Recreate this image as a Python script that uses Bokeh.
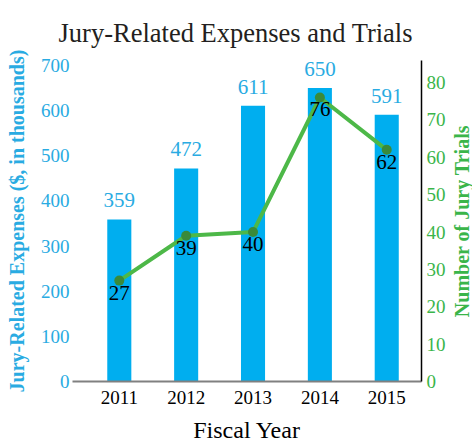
from bokeh.plotting import figure
from bokeh.layouts import row
from bokeh.models import Range1d, LinearAxis, FixedTicker, ColumnDataSource
from bokeh.core.properties import value
from bokeh.embed import file_html
from bokeh.resources import INLINE

years = [2011, 2012, 2013, 2014, 2015]
expenses = [359, 472, 611, 650, 591]
trials = [27, 39, 40, 76, 62]
left_ticks = [0, 100, 200, 300, 400, 500, 600, 700]
right_ticks = [0, 10, 20, 30, 40, 50, 60, 70, 80]

BLUE_BAR = "#00aeef"
BLUE_TXT = "#29abe2"
GREEN_LINE = "#4db848"
GREEN_TXT = "#3ab54a"
GREEN_DOT = "#3a8a3a"
SERIF = "Liberation Serif"

src = ColumnDataSource(dict(
    year=years, exp=expenses, tr=trials,
    exp_lbl=[str(v) for v in expenses], tr_lbl=[str(v) for v in trials]))

p = figure(width=448, height=445, x_range=Range1d(2010.30, 2015.52),
           y_range=Range1d(0, 711), output_backend="svg", toolbar_location=None,
           title="Jury-Related Expenses and Trials",
           min_border_left=72, min_border_right=27, min_border_bottom=63, min_border_top=60)
p.extra_y_ranges = {"trials": Range1d(0, 85.9)}

p.title.align = "left"
p.title.offset = -14
p.title.vertical_align = "bottom"
p.title.text_font = SERIF
p.title.text_font_style = "normal"
p.title.text_font_size = "26.5px"
p.title.text_color = "#231f20"
p.title.standoff = 26

p.grid.visible = False
p.outline_line_color = None
p.background_fill_color = "white"
p.border_fill_color = "white"

# bars
p.vbar(x="year", top="exp", width=0.36, source=src, fill_color=BLUE_BAR, line_color=None)
p.text(x="year", y="exp", text="exp_lbl", source=src, text_align="center",
       text_baseline="bottom", y_offset=-12, text_font=value(SERIF),
       text_font_size="21px", text_color=BLUE_TXT)

# line
p.line(x="year", y="tr", source=src, y_range_name="trials", line_color=GREEN_LINE, line_width=4)
p.scatter(x="year", y="tr", source=src, y_range_name="trials", size=10,
          fill_color=GREEN_DOT, line_color=None)
p.text(x="year", y="tr", text="tr_lbl", source=src, y_range_name="trials",
       text_align="center", text_baseline="top", y_offset=5, text_font=value(SERIF),
       text_font_size="21px", text_color="black")

def plain(ax):
    ax.major_tick_line_color = None
    ax.minor_tick_line_color = None
    ax.major_tick_out = 0
    ax.major_tick_in = 0
    ax.minor_tick_out = 0
    ax.minor_tick_in = 0

# bottom axis
xa = p.below[0]
plain(xa)
xa.ticker = FixedTicker(ticks=years)
xa.axis_line_color = "#808080"
xa.axis_line_width = 2
xa.major_label_text_font = SERIF
xa.major_label_text_font_size = "19px"
xa.major_label_text_color = "black"
xa.major_label_standoff = 9
xa.axis_label = "Fiscal Year"
xa.axis_label_text_font = SERIF
xa.axis_label_text_font_style = "normal"
xa.axis_label_text_font_size = "24px"
xa.axis_label_text_color = "black"
xa.axis_label_standoff = 10

# left axis
ya = p.left[0]
plain(ya)
ya.ticker = FixedTicker(ticks=left_ticks)
ya.axis_line_color = None
ya.major_label_text_font = SERIF
ya.major_label_text_font_size = "19px"
ya.major_label_text_color = BLUE_TXT
ya.major_label_standoff = 3
ya.axis_label = "Jury-Related Expenses ($, in thousands)"
ya.axis_label_text_font = SERIF
ya.axis_label_text_font_style = "bold"
ya.axis_label_text_font_size = "20px"
ya.axis_label_text_color = BLUE_TXT
ya.axis_label_standoff = 10

# right axis (ticks only)
ra = LinearAxis(y_range_name="trials", ticker=FixedTicker(ticks=right_ticks))
plain(ra)
ra.axis_line_color = "black"
ra.axis_line_width = 1.5
ra.major_label_text_font = SERIF
ra.major_label_text_font_size = "19px"
ra.major_label_text_color = GREEN_TXT
ra.major_label_standoff = 5
p.add_layout(ra, "right")

# narrow companion figure carrying the right-hand axis title (reads bottom to top)
p2 = figure(width=24, height=445, x_range=Range1d(0, 1), y_range=Range1d(0, 1),
            output_backend="svg", toolbar_location=None,
            min_border_left=23, min_border_right=0, min_border_top=60, min_border_bottom=63)
p2.grid.visible = False
p2.outline_line_color = None
p2.xaxis.visible = False
p2.background_fill_color = "white"
p2.border_fill_color = "white"
ya2 = p2.yaxis[0]
plain(ya2)
ya2.ticker = FixedTicker(ticks=[])
ya2.axis_line_color = None
ya2.axis_label = "Number of Jury Trials"
ya2.axis_label_standoff = 0
ya2.axis_label_text_font = SERIF
ya2.axis_label_text_font_style = "bold"
ya2.axis_label_text_font_size = "20px"
ya2.axis_label_text_color = GREEN_TXT

layout = row(p, p2, spacing=0)
open("out.html", "w").write(file_html(layout, INLINE))
